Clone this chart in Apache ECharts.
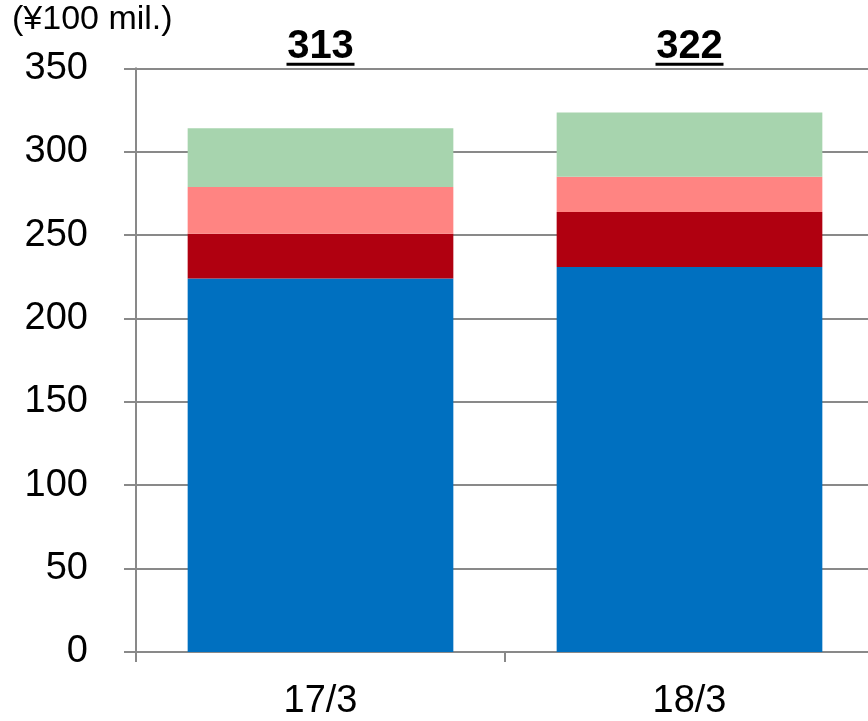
<!DOCTYPE html>
<html>
<head>
<meta charset="utf-8">
<script src="https://cdn.jsdelivr.net/npm/echarts@6/dist/echarts.min.js"></script>
<style>
html,body{margin:0;padding:0;background:#fff;overflow:hidden;}
#chart{width:890px;height:721px;}
</style>
</head>
<body>
<div id="chart"></div>
<script>
// ---- data ----
const categories = ['17/3', '18/3'];
const segBlue = [224.0, 230.8];
const segDarkRed = [26.8, 33.1];
const segPink = [28.0, 21.0];
const segGreen = [35.3, 38.6];
const totalLabels = ['313', '322'];
const yTicks = [0, 50, 100, 150, 200, 250, 300, 350];

// ---- styling constants ----
const FONT = 'Arial, "Liberation Sans", sans-serif';
const GRID_COLOR = '#898989';
const totalLabelLevel = 362; // where the total labels sit on the value scale

const chart = echarts.init(document.getElementById('chart'), null, {renderer: 'canvas'});

function barSeries(name, data, color) {
  return {
    name: name,
    type: 'bar',
    stack: 'total',
    data: data,
    barWidth: '72%',
    itemStyle: {color: color},
    emphasis: {disabled: true}
  };
}

const option = {
  animation: false,
  backgroundColor: '#ffffff',
  title: {
    text: '(¥100 mil.)',
    left: 12,
    top: 3,
    padding: 0,
    textStyle: {fontFamily: FONT, fontSize: 34, fontWeight: 'normal', color: '#000'}
  },
  grid: {left: 136, top: 68.3, width: 738, bottom: 64.7, containLabel: false},
  xAxis: {
    type: 'category',
    data: categories,
    boundaryGap: true,
    axisLine: {show: true, lineStyle: {color: GRID_COLOR, width: 2}},
    axisTick: {show: true, alignWithLabel: false, length: 10, lineStyle: {color: GRID_COLOR, width: 2}},
    axisLabel: {fontFamily: FONT, fontSize: 38, color: '#000', margin: 31}
  },
  yAxis: {
    type: 'value',
    min: yTicks[0],
    max: yTicks[yTicks.length - 1],
    interval: yTicks[1] - yTicks[0],
    axisLine: {show: true, lineStyle: {color: GRID_COLOR, width: 2}},
    axisTick: {show: true, inside: false, length: 12, lineStyle: {color: GRID_COLOR, width: 2}},
    splitLine: {show: true, lineStyle: {color: GRID_COLOR, width: 2}},
    axisLabel: {fontFamily: FONT, fontSize: 38, color: '#000', margin: 48}
  },
  series: [
    barSeries('Segment 1', segBlue, '#0070C0'),
    barSeries('Segment 2', segDarkRed, '#B00010'),
    barSeries('Segment 3', segPink, '#FF8482'),
    barSeries('Segment 4', segGreen, '#A7D4AE'),
    {
      name: 'Total',
      type: 'scatter',
      symbolSize: 0,
      clip: false,
      silent: true,
      data: categories.map((c, i) => [c, totalLabelLevel]),
      label: {
        show: true,
        position: 'inside',
        color: '#000',
        opacity: 1,
        textBorderWidth: 0,
        formatter: p => '{v|' + totalLabels[p.dataIndex] + '}\n{u| }',
        rich: {
          v: {fontFamily: FONT, fontSize: 40, fontWeight: 'bold', color: '#000', lineHeight: 32, align: 'center', textBorderWidth: 0},
          u: {width: 68, height: 3, lineHeight: 3, backgroundColor: '#000', align: 'center', fontSize: 1}
        }
      }
    }
  ]
};
chart.setOption(option);
</script>
</body>
</html>
